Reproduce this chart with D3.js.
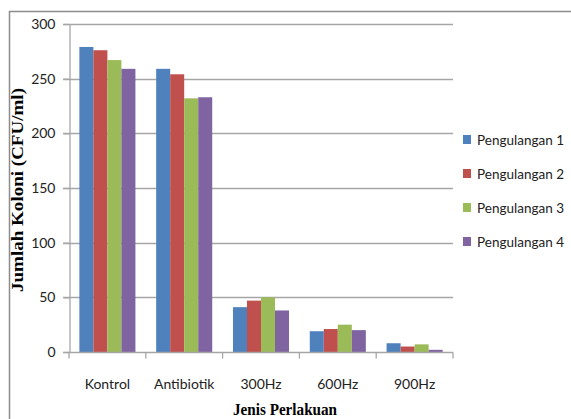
<!DOCTYPE html>
<html>
  <head>
    <meta charset="utf-8">
    <style>
      body { margin: 0; background: #fff; }
      svg { display: block; }
    </style>
  </head>
  <body>
    <script src="https://d3js.org/d3.v7.min.js"></script>
    <script>
      // data
      const categories = ['Kontrol', 'Antibiotik', '300Hz', '600Hz', '900Hz'];
      const seriesNames = ['Pengulangan 1', 'Pengulangan 2', 'Pengulangan 3', 'Pengulangan 4'];
      const pengulangan1 = [279, 259, 41, 19, 8];
      const pengulangan2 = [276, 254, 47, 21, 5];
      const pengulangan3 = [267, 232, 50, 25, 7];
      const pengulangan4 = [259, 233, 38, 20, 2];
      const yTicks = [0, 50, 100, 150, 200, 250, 300];

      const seriesValues = [pengulangan1, pengulangan2, pengulangan3, pengulangan4];
      const colors = ['#4F81BD', '#C0504D', '#9BBB59', '#8064A2'];

      const width = 571, height = 419;
      const plot = { left: 69, right: 453, top: 24, bottom: 352 };
      const labelFont = "'Lato', 'Open Sans', sans-serif";

      const svg = d3.select('body').append('svg')
        .attr('width', width)
        .attr('height', height);

      // outer frame (only top and left edges show)
      svg.append('path')
        .attr('d', `M9.5,${height} V11.5 H${width}`)
        .attr('fill', 'none')
        .attr('stroke', '#8c8c8c')
        .attr('stroke-width', 1.5);

      const xScale = d3.scaleBand()
        .domain(categories)
        .range([plot.left, plot.right])
        .paddingInner(0)
        .paddingOuter(0);

      const xInner = d3.scaleBand()
        .domain(seriesNames)
        .range([0, xScale.bandwidth()])
        .paddingOuter(0.74)
        .paddingInner(0);

      const yScale = d3.scaleLinear()
        .domain([0, 300])
        .range([plot.bottom, plot.top]);

      // grid
      svg.append('g')
        .selectAll('line')
        .data(yTicks.slice(1))
        .join('line')
        .attr('x1', plot.left - 6)
        .attr('x2', plot.right)
        .attr('y1', d => Math.round(yScale(d)) + 0.5)
        .attr('y2', d => Math.round(yScale(d)) + 0.5)
        .attr('stroke', '#a6a6a6')
        .attr('stroke-width', 1.3);

      // bars
      const rows = categories.map((c, i) => ({ cat: c, vals: seriesValues.map(s => s[i]) }));
      const group = svg.append('g')
        .selectAll('g')
        .data(rows)
        .join('g')
        .attr('transform', d => `translate(${xScale(d.cat)},0)`);

      group.selectAll('rect')
        .data(d => d.vals.map((v, j) => ({ key: seriesNames[j], value: v, idx: j })))
        .join('rect')
        .attr('x', d => xInner(d.key))
        .attr('y', d => yScale(d.value))
        .attr('width', xInner.bandwidth())
        .attr('height', d => yScale(0) - yScale(d.value))
        .attr('fill', d => colors[d.idx]);

      // y axis
      const yAxis = d3.axisLeft(yScale).tickValues(yTicks).tickSize(6).tickSizeOuter(0).tickPadding(8);
      const yg = svg.append('g')
        .attr('transform', `translate(${plot.left + 0.5},0)`)
        .call(yAxis);
      yg.select('.domain').attr('stroke', '#a6a6a6').attr('stroke-width', 1.3);
      yg.selectAll('.tick line').attr('stroke', '#a6a6a6').attr('stroke-width', 1.3);
      yg.selectAll('.tick text')
        .attr('font-family', labelFont)
        .attr('font-size', 14)
        .attr('fill', '#222');

      // x axis
      const xAxis = d3.axisBottom(xScale).tickSize(0).tickPadding(27);
      const xg = svg.append('g')
        .attr('transform', `translate(0,${plot.bottom + 0.5})`)
        .call(xAxis);
      xg.select('.domain').remove();
      xg.append('line')
        .attr('x1', plot.left - 6).attr('x2', plot.right)
        .attr('stroke', '#a6a6a6').attr('stroke-width', 1.3);
      xg.selectAll('.sep')
        .data(d3.range(categories.length + 1))
        .join('line')
        .attr('class', 'sep')
        .attr('x1', i => plot.left + i * xScale.bandwidth())
        .attr('x2', i => plot.left + i * xScale.bandwidth())
        .attr('y1', 0).attr('y2', 6)
        .attr('stroke', '#a6a6a6').attr('stroke-width', 1.3);
      xg.selectAll('.tick text')
        .attr('font-family', labelFont)
        .attr('font-size', 14)
        .attr('fill', '#222');

      // axis titles
      svg.append('text')
        .attr('x', 285)
        .attr('y', 415)
        .attr('text-anchor', 'middle')
        .attr('font-family', "'Liberation Serif', serif")
        .attr('font-weight', 'bold')
        .attr('font-size', 17)
        .attr('textLength', 104)
        .attr('lengthAdjust', 'spacingAndGlyphs')
        .text('Jenis Perlakuan');

      svg.append('text')
        .attr('transform', 'translate(23,190) rotate(-90)')
        .attr('text-anchor', 'middle')
        .attr('font-family', "'Liberation Serif', serif")
        .attr('font-weight', 'bold')
        .attr('font-size', 17)
        .attr('textLength', 204)
        .attr('lengthAdjust', 'spacingAndGlyphs')
        .text('Jumlah Koloni (CFU/ml)');

      // legend
      const legend = svg.append('g')
        .selectAll('g')
        .data(seriesNames)
        .join('g')
        .attr('transform', (d, i) => `translate(463,${135 + i * 34})`);
      legend.append('rect')
        .attr('width', 8).attr('height', 9)
        .attr('fill', (d, i) => colors[i]);
      legend.append('text')
        .attr('x', 14)
        .attr('y', 9.5)
        .attr('font-family', labelFont)
        .attr('font-size', 14)
        .attr('fill', '#222')
        .attr('textLength', 87)
        .attr('lengthAdjust', 'spacingAndGlyphs')
        .text(d => d);
    </script>
  </body>
</html>
